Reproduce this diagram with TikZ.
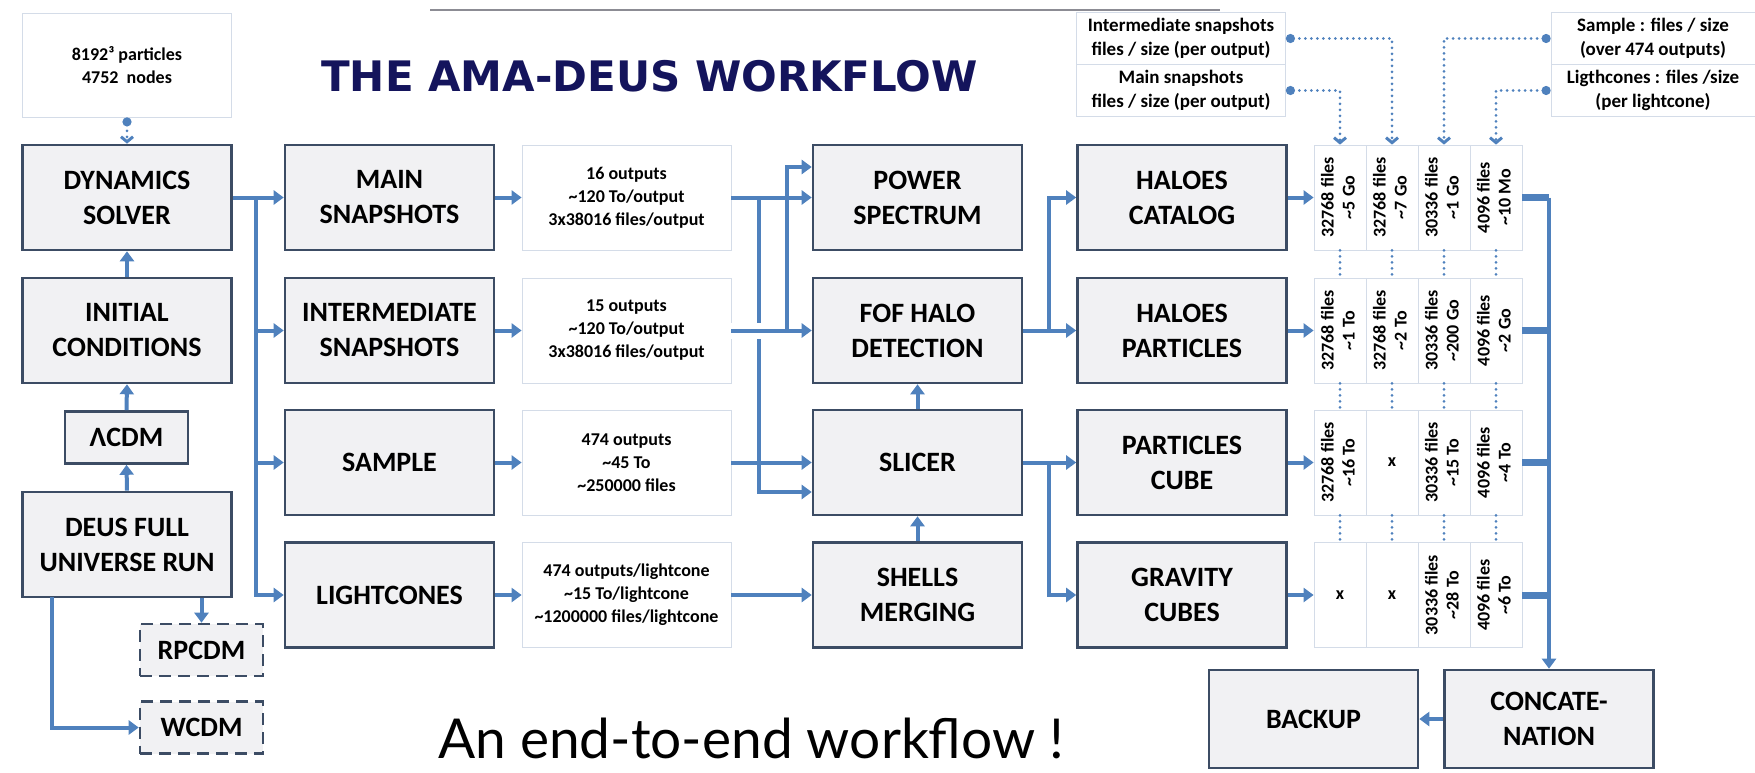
\documentclass[tikz,border=0pt]{standalone}
\usepackage{fontspec}
\usepackage{graphicx}
\setmainfont{Carlito}
\newfontfamily\titlefont{DejaVu Sans}
\newfontfamily\endfont{Lato}
\usetikzlibrary{arrows.meta}
\definecolor{flowblue}{RGB}{79,129,189}
\definecolor{boxline}{RGB}{60,76,100}
\definecolor{boxfill}{RGB}{241,241,243}
\definecolor{noteline}{RGB}{212,220,232}
\definecolor{titleblue}{RGB}{20,20,92}
\definecolor{rulegray}{RGB}{140,140,148}
\newcommand{\sizecell}[2]{\rotatebox{90}{\begin{tabular}{@{}c@{}}#1 files\\\textasciitilde#2\end{tabular}}}

\begin{document}
\begin{tikzpicture}[x=1pt,y=1pt,yscale=-1,xscale=1,
  box/.style={draw=boxline,fill=boxfill,line width=2.6pt,minimum width=209pt,minimum height=105pt,inner sep=0pt,align=center,font=\bfseries\fontsize{28}{35}\selectfont},
  smallbox/.style={box,minimum width=123pt,minimum height=52pt},
  dashbox/.style={smallbox,dash pattern=on 12pt off 7pt},
  note/.style={draw=noteline,fill=white,line width=0.8pt,minimum width=209pt,minimum height=105pt,inner sep=0pt,align=center,font=\bfseries\fontsize{18}{23}\selectfont},
  legend/.style={note,minimum height=52pt,font=\bfseries\fontsize{19}{24}\selectfont},
  cell/.style={draw=noteline,fill=white,line width=0.8pt,minimum width=52pt,minimum height=105pt,inner sep=0pt,font=\bfseries\fontsize{18}{21}\selectfont},
  flow/.style={draw=flowblue,line width=4pt,-{Triangle[length=10pt,width=14pt]}},
  stub/.style={draw=flowblue,line width=7pt},
  dotlink/.style={draw=flowblue,line width=3pt,dash pattern=on 0pt off 6pt,line cap=round,{Circle[length=9pt]}-{Straight Barb[length=5pt,width=12pt]}},
  rowdots/.style={draw=flowblue,line width=3pt,dash pattern=on 0pt off 6pt,line cap=round}]
\useasboundingbox (0,0) rectangle (1755,773);

%Shape: Line [top rule]
\draw [rulegray,line width=2pt] (430,10) -- (1220,10);
% Text Node
\node (title) [anchor=base west,inner sep=0pt,text=titleblue,font=\titlefont\bfseries\fontsize{42}{42}\selectfont] at (321,92) {THE AMA-DEUS WORKFLOW};
% Text Node
\node (endtext) [anchor=base west,inner sep=0pt,font=\endfont\fontsize{55}{55}\selectfont] at (438,758) {An end-to-end workflow !};

%Shape: Rectangle [run column]
\node (cfg) [note,minimum height=104pt] at (127,65) {8192³ particles\\4752\ \ nodes};
\node (dyn) [box] at (127,197.5) {DYNAMICS\\SOLVER};
\node (init) [box] at (127,330.5) {INITIAL\\CONDITIONS};
\node (lcdm) [smallbox] at (126.5,437.5) {ΛCDM};
\node (deus) [box] at (127,544.5) {DEUS FULL\\UNIVERSE RUN};
\node (rpcdm) [dashbox] at (201.5,650) {RPCDM};
\node (wcdm) [dashbox] at (201.5,727.5) {WCDM};

%Shape: Rectangle [outputs]
\node (mainsnap) [box] at (389.5,197.5) {MAIN\\SNAPSHOTS};
\node (intsnap) [box] at (389.5,330.5) {INTERMEDIATE\\SNAPSHOTS};
\node (sample) [box] at (389.5,462.5) {SAMPLE};
\node (light) [box] at (389.5,595) {LIGHTCONES};

%Shape: Rectangle [output sizes]
\node (mainnote) [note] at (626.5,197.5) {16 outputs\\\textasciitilde120 To/output\\3x38016 files/output};
\node (intnote) [note] at (626.5,330.5) {15 outputs\\\textasciitilde120 To/output\\3x38016 files/output};
\node (samplenote) [note] at (626.5,462.5) {474 outputs\\\textasciitilde45 To\\\textasciitilde250000 files};
\node (lightnote) [note] at (626.5,595) {474 outputs/lightcone\\\textasciitilde15 To/lightcone\\\textasciitilde1200000 files/lightcone};

%Shape: Rectangle [post-processing]
\node (power) [box] at (917.5,197.5) {POWER\\SPECTRUM};
\node (fof) [box] at (917.5,330.5) {FOF HALO\\DETECTION};
\node (slicer) [box] at (917.5,462.5) {SLICER};
\node (shells) [box] at (917.5,595) {SHELLS\\MERGING};

%Shape: Rectangle [products]
\node (hcat) [box] at (1182,197.5) {HALOES\\CATALOG};
\node (hpart) [box] at (1182,330.5) {HALOES\\PARTICLES};
\node (pcube) [box] at (1182,462.5) {PARTICLES\\CUBE};
\node (gcube) [box] at (1182,595) {GRAVITY\\CUBES};
\node (backup) [box,minimum height=98pt] at (1313.5,719) {BACKUP};
\node (concat) [box,minimum height=98pt] at (1549,719) {CONCATE-\\NATION};

%Shape: Rectangle [legend]
\node (intleg) [legend] at (1181,38.5) {Intermediate snapshots\\files / size (per output)};
\node (mainleg) [legend] at (1181,90.5) {Main snapshots\\files / size (per output)};
\node (sampleleg) [legend,minimum width=204pt] at (1653,38.5) {Sample : files / size\\(over 474 outputs)};
\node (lightleg) [legend,minimum width=204pt] at (1653,90.5) {Ligthcones : files /size\\(per lightcone)};

%Shape: Table [files / size]
\node (t11) [cell] at (1340,197.5) {\sizecell{32768}{5 Go}};
\node (t12) [cell] at (1392,197.5) {\sizecell{32768}{7 Go}};
\node (t13) [cell] at (1444,197.5) {\sizecell{30336}{1 Go}};
\node (t14) [cell] at (1496,197.5) {\sizecell{4096}{10 Mo}};
\node (t21) [cell] at (1340,330.5) {\sizecell{32768}{1 To}};
\node (t22) [cell] at (1392,330.5) {\sizecell{32768}{2 To}};
\node (t23) [cell] at (1444,330.5) {\sizecell{30336}{200 Go}};
\node (t24) [cell] at (1496,330.5) {\sizecell{4096}{2 Go}};
\node (t31) [cell] at (1340,462.5) {\sizecell{32768}{16 To}};
\node (t32) [cell] at (1392,462.5) {x};
\node (t33) [cell] at (1444,462.5) {\sizecell{30336}{15 To}};
\node (t34) [cell] at (1496,462.5) {\sizecell{4096}{4 To}};
\node (t41) [cell] at (1340,595) {x};
\node (t42) [cell] at (1392,595) {x};
\node (t43) [cell] at (1444,595) {\sizecell{30336}{28 To}};
\node (t44) [cell] at (1496,595) {\sizecell{4096}{6 To}};

% junctions
\coordinate (bus) at (256,197.5);
\coordinate (s1) at (759,197.5);
\coordinate (s2) at (787,330.5);
\coordinate (s3) at (1049,330.5);
\coordinate (s4) at (1049,462.5);
\coordinate (bus2) at (1549,197.5);
\coordinate (w0) at (52,597);

%Connectors: run column
\draw [dotlink] (cfg.south) -- (dyn.north);
\draw [flow] (init.north) -- (dyn.south);
\draw [flow] (lcdm.north) -- (init.south);
\draw [flow] (deus.north) -- (lcdm.south);
\draw [flow] (deus.south -| rpcdm.north) -- (rpcdm.north);
\draw [flow] (w0) |- (wcdm.west);

%Connectors: outputs
\draw [flow] (dyn.east) -- (mainsnap.west);
\draw [flow] (bus) |- (light.west);
\draw [flow] (bus |- intsnap.west) -- (intsnap.west);
\draw [flow] (bus |- sample.west) -- (sample.west);
\draw [flow] (mainsnap.east) -- (mainnote.west);
\draw [flow] (intsnap.east) -- (intnote.west);
\draw [flow] (sample.east) -- (samplenote.west);
\draw [flow] (light.east) -- (lightnote.west);

%Connectors: post-processing
\draw [flow] (mainnote.east) -- (power.west);
\draw [flow] (s1) |- ([yshift=29.5pt]slicer.west);
\draw [white,line width=16pt] (intnote.east) -- (fof.west);
\draw [flow] (intnote.east) -- (fof.west);
\draw [flow] (s2) |- ([yshift=-30.5pt]power.west);
\draw [flow] (samplenote.east) -- (slicer.west);
\draw [flow] (lightnote.east) -- (shells.west);
\draw [flow] (shells.north) -- (slicer.south);
\draw [flow] (slicer.north) -- (fof.south);

%Connectors: products
\draw [flow] (fof.east) -- (hpart.west);
\draw [flow] (s3) |- (hcat.west);
\draw [flow] (slicer.east) -- (pcube.west);
\draw [flow] (s4) |- (gcube.west);
\draw [flow] (hcat.east) -- (t11.west);
\draw [flow] (hpart.east) -- (t21.west);
\draw [flow] (pcube.east) -- (t31.west);
\draw [flow] (gcube.east) -- (t41.west);

%Connectors: legend
\draw [dotlink] (mainleg.east) -| (t11.north);
\draw [dotlink] (intleg.east) -| (t12.north);
\draw [dotlink] (sampleleg.west) -| (t13.north);
\draw [dotlink] (lightleg.west) -| (t14.north);
\draw [rowdots] (t11.south) -- (t21.north);
\draw [rowdots] (t12.south) -- (t22.north);
\draw [rowdots] (t13.south) -- (t23.north);
\draw [rowdots] (t14.south) -- (t24.north);
\draw [rowdots] (t21.south) -- (t31.north);
\draw [rowdots] (t22.south) -- (t32.north);
\draw [rowdots] (t23.south) -- (t33.north);
\draw [rowdots] (t24.south) -- (t34.north);
\draw [rowdots] (t31.south) -- (t41.north);
\draw [rowdots] (t32.south) -- (t42.north);
\draw [rowdots] (t33.south) -- (t43.north);
\draw [rowdots] (t34.south) -- (t44.north);

%Connectors: concatenation
\draw [stub] (t14.east) -- (bus2);
\draw [stub] (t24.east) -- (t24.east -| bus2);
\draw [stub] (t34.east) -- (t34.east -| bus2);
\draw [stub] (t44.east) -- (t44.east -| bus2);
\draw [flow] (bus2) -- (concat.north);
\draw [flow] (concat.west) -- (backup.east);

\end{tikzpicture}
\end{document}
